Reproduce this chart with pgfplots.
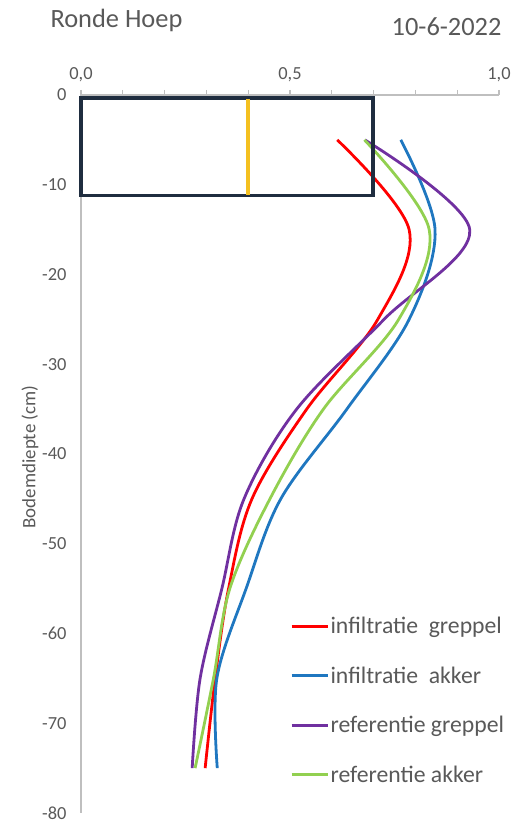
\documentclass[border=0pt]{standalone}
\usepackage{pgfplots}
\pgfplotsset{compat=1.18}
\usepackage{fontspec}
\setmainfont{Carlito}
\definecolor{txt}{HTML}{595959}
\definecolor{axc}{HTML}{BFBFBF}
\definecolor{boxc}{HTML}{1F2D3F}
\definecolor{yel}{HTML}{F4C020}
\definecolor{cred}{HTML}{FF0000}
\definecolor{cblue}{HTML}{1F77C0}
\definecolor{cpurp}{HTML}{7030A0}
\definecolor{cgreen}{HTML}{92D050}
\begin{document}
\begin{tikzpicture}
\begin{axis}[
  at={(0,0)}, anchor=south west,
  scale only axis, width=418bp, height=718bp,
  xmin=0, xmax=1, ymin=-80, ymax=0,
  clip=false,
  axis x line*=top, axis y line*=left,
  axis line style={draw=axc, line width=1.3bp},
  xtick={0,0.5,1}, xticklabels={{0,0},{0,5},{1,0}},
  minor xtick={0.1,0.2,0.3,0.4,0.6,0.7,0.8,0.9},
  ytick={-80,-70,-60,-50,-40,-30,-20,-10,0},
  yticklabels={-80,-70,-60,-50,-40,-30,-20,-10,0},
  tick align=outside,
  major tick length=5bp, minor tick length=5bp,
  x tick style={draw=axc, line width=1.1bp},
  y tick style={draw=none},
  tick label style={font=\fontsize{18.5}{21}\selectfont, text=txt},
  xticklabel style={yshift=5bp},
  yticklabel style={xshift=-6bp},
  legend style={at={(rel axis cs:0.493,0.2775)}, anchor=north west, draw=none, fill=none,
    font=\fontsize{23.8}{28}\selectfont, text=txt, row sep=28.5bp,
    nodes={inner sep=1.5bp}},
  legend cell align=left,
  legend image code/.code={\draw[#1, line width=2.8bp] (0bp,0bp) -- (36bp,0bp);},
]
\addplot[cred, line width=2.8bp, smooth, tension=0.55] coordinates {
(0.613,-5) (0.785,-15) (0.71,-25) (0.54,-35) (0.409,-45) (0.353,-55) (0.321,-65) (0.297,-75)};
\addlegendentry{infiltratie\hspace{0.45em}greppel}
\addplot[cblue, line width=2.8bp, smooth, tension=0.55] coordinates {
(0.765,-5) (0.847,-15) (0.785,-25) (0.636,-35) (0.478,-45) (0.395,-55) (0.325,-65) (0.326,-75)};
\addlegendentry{infiltratie\hspace{0.45em}akker}
\addplot[cpurp, line width=2.8bp, smooth, tension=0.55] coordinates {
(0.679,-5) (0.93,-15) (0.725,-25) (0.516,-35) (0.39,-45) (0.337,-55) (0.285,-65) (0.266,-75)};
\addlegendentry{referentie greppel}
\addplot[cgreen, line width=2.8bp, smooth, tension=0.55] coordinates {
(0.678,-5) (0.833,-15) (0.76,-25) (0.58,-35) (0.452,-45) (0.356,-55) (0.317,-65) (0.273,-75)};
\addlegendentry{referentie akker}
\addplot[boxc, line width=3.6bp, line join=miter, forget plot] coordinates {
(0,-0.35) (0.698,-0.35) (0.698,-11.2) (0,-11.2) (0,-0.35)} -- cycle;
\addplot[yel, line width=3.5bp, forget plot] coordinates {(0.4,-0.5) (0.4,-11.1)};
\end{axis}
\node[anchor=base west, text=txt, font=\fontsize{26.5}{30}\selectfont] at (-34bp,785bp) {Ronde Hoep};
\node[anchor=base east, text=txt, font=\fontsize{26.5}{30}\selectfont] at (424bp,777bp) {10-6-2022};
\node[rotate=90, text=txt, font=\fontsize{19}{22}\selectfont] at (-51bp,356bp) {Bodemdiepte (cm)};
\pgfresetboundingbox
\path[use as bounding box] (-81bp,-12bp) rectangle (434bp,813bp);
\end{tikzpicture}
\end{document}
